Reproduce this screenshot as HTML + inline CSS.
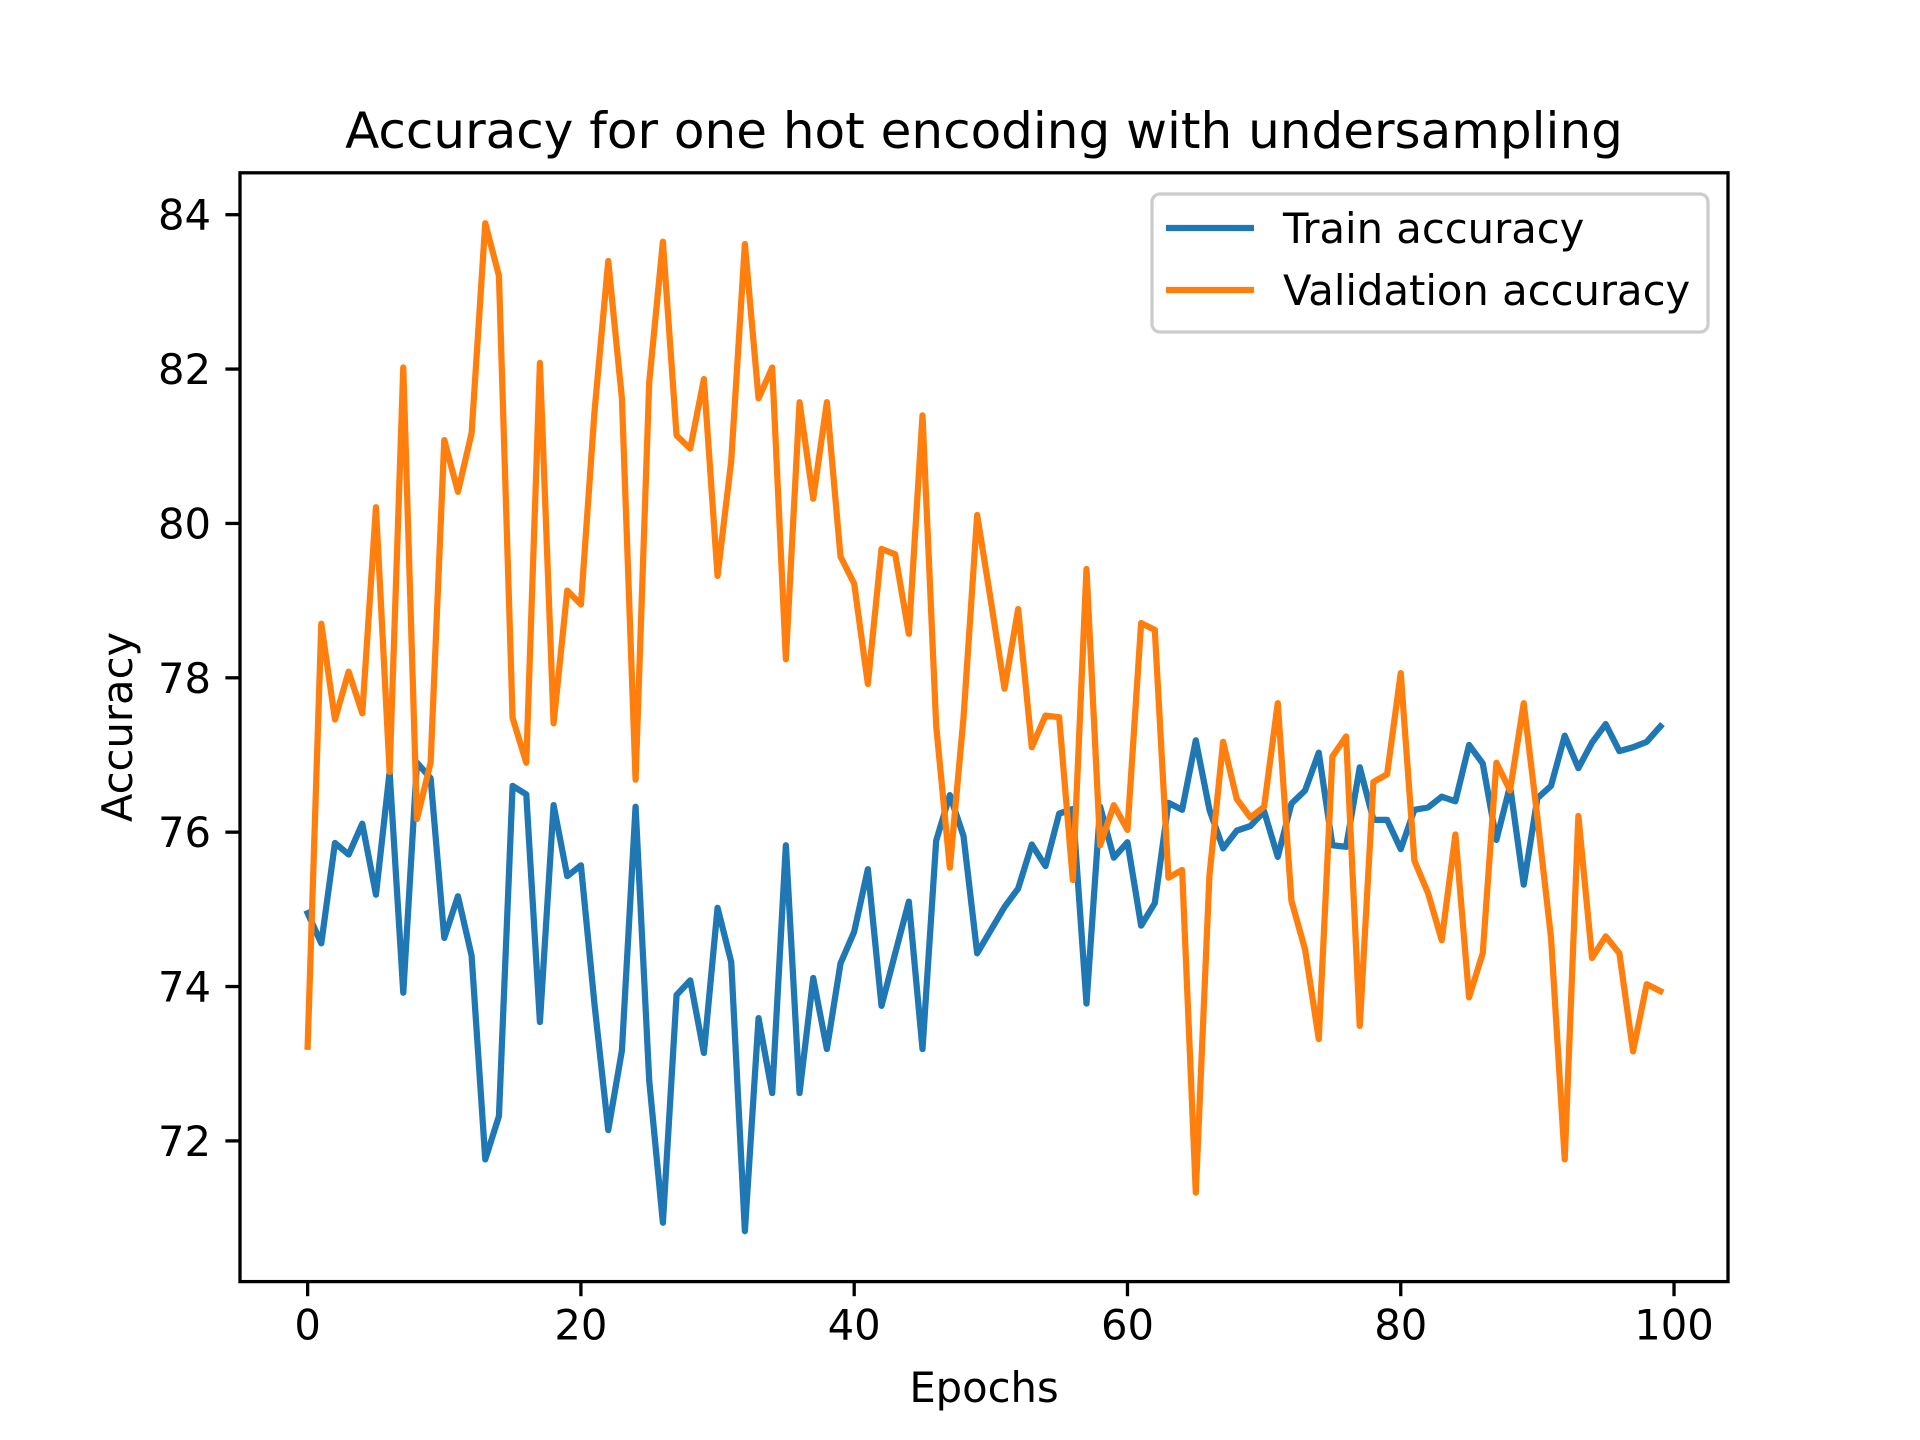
<!DOCTYPE html>
<html><head><meta charset="utf-8"><style>
html,body{margin:0;padding:0;background:#fff;}
svg{display:block;font-family:"DejaVu Sans","Liberation Sans",sans-serif;}
</style></head><body>
<svg id="chart" width="1920" height="1440" viewBox="0 0 1920 1440" xmlns="http://www.w3.org/2000/svg">
<rect width="1920" height="1440" fill="#fff"/>
<text x="984" y="148" font-size="50" text-anchor="middle">Accuracy for one hot encoding with undersampling</text>
<g id="plot"></g>
<text x="984" y="1402" font-size="41.7" text-anchor="middle">Epochs</text>
<text x="0" y="0" font-size="41.7" text-anchor="middle" transform="translate(132,727) rotate(-90)">Accuracy</text>
</svg>
<script>
const trainAcc = [74.95,74.56,75.86,75.71,76.11,75.19,76.78,73.92,76.9,76.7,74.63,75.17,74.4,71.76,72.32,76.6,76.49,73.54,76.35,75.43,75.57,73.76,72.14,73.17,76.33,72.78,70.94,73.89,74.08,73.14,75.02,74.32,70.83,73.59,72.62,75.83,72.62,74.11,73.19,74.3,74.71,75.52,73.75,74.43,75.1,73.19,75.89,76.48,75.95,74.43,74.73,75.03,75.27,75.84,75.56,76.24,76.3,73.78,76.33,75.67,75.87,74.79,75.08,76.38,76.29,77.19,76.29,75.79,76.02,76.08,76.27,75.68,76.37,76.54,77.03,75.83,75.81,76.84,76.16,76.16,75.78,76.29,76.32,76.46,76.4,77.13,76.89,75.9,76.6,75.32,76.44,76.6,77.25,76.83,77.16,77.4,77.05,77.1,77.17,77.37];
const valAcc = [73.22,78.7,77.46,78.08,77.54,80.21,76.78,82.02,76.17,76.9,81.08,80.41,81.17,83.89,83.21,77.48,76.9,82.08,77.41,79.13,78.95,81.46,83.4,81.62,76.68,81.83,83.65,81.14,80.97,81.87,79.32,80.81,83.62,81.62,82.02,78.24,81.57,80.32,81.57,79.57,79.22,77.92,79.67,79.6,78.57,81.4,77.38,75.54,77.48,80.11,79.0,77.86,78.89,77.1,77.51,77.49,75.38,79.41,75.83,76.35,76.03,78.71,78.62,75.41,75.51,71.33,75.44,77.17,76.43,76.19,76.33,77.67,75.11,74.48,73.32,76.98,77.24,73.49,76.65,76.75,78.06,75.63,75.21,74.6,75.97,73.86,74.43,76.9,76.54,77.67,76.19,74.63,71.76,76.21,74.37,74.65,74.43,73.16,74.03,73.94];
const xTicks = [0,20,40,60,80,100];
const yTicks = [72,74,76,78,80,82,84];
const seriesNames = ["Train accuracy","Validation accuracy"];

const L=240,R=1728,T=172.8,B=1281.6;
const n=trainAcc.length;
const all=trainAcc.concat(valAcc);
const dmin=Math.min(...all),dmax=Math.max(...all);
const xmin=-(n-1)*0.05,xmax=(n-1)*1.05;
const ymin=dmin-(dmax-dmin)*0.05,ymax=dmax+(dmax-dmin)*0.05;
const xs=v=>L+(v-xmin)/(xmax-xmin)*(R-L);
const ys=v=>B-(v-ymin)/(ymax-ymin)*(B-T);
const NS="http://www.w3.org/2000/svg";
const g=document.getElementById('plot');
function mk(tag,attrs,parent){const e=document.createElementNS(NS,tag);for(const k in attrs)e.setAttribute(k,attrs[k]);(parent||g).appendChild(e);return e;}

function line(data,color,name){
  const p=mk('polyline',{points:data.map((v,i)=>xs(i).toFixed(2)+','+ys(v).toFixed(2)).join(' '),fill:'none',stroke:color,'stroke-width':6.25,'stroke-linejoin':'round','stroke-linecap':'square'});
  
  
}
line(trainAcc,'#1f77b4','train-accuracy-line');
line(valAcc,'#ff7f0e','validation-accuracy-line');

const frame=mk('rect',{x:L,y:T,width:R-L,height:B-T,fill:'none',stroke:'#000','stroke-width':3.3});



xTicks.forEach(t=>{
  const x=xs(t);
  const tk=mk('line',{x1:x,x2:x,y1:B,y2:B+14.6,stroke:'#000','stroke-width':3.3});
  
  
  const tx=mk('text',{x:x,y:B+58,'font-size':41.7,'text-anchor':'middle'});
  tx.textContent=t;
  
  
});
yTicks.forEach(t=>{
  const y=ys(t);
  const tk=mk('line',{x1:L-14.6,x2:L,y1:y,y2:y,stroke:'#000','stroke-width':3.3});
  
  
  const tx=mk('text',{x:L-29,y:y+15,'font-size':41.7,'text-anchor':'end'});
  tx.textContent=t;
  
  
});

const lg=mk('g',{});


mk('rect',{x:1152,y:194,width:556,height:138,rx:8,fill:'#fff','fill-opacity':0.8,stroke:'#ccc','stroke-width':3.3},lg);
const colors=['#1f77b4','#ff7f0e'];
seriesNames.forEach((s,i)=>{
  const y=228+i*62;
  const ln=mk('line',{x1:1166,x2:1254,y1:y,y2:y,stroke:colors[i],'stroke-width':6.25},lg);
  
  
  const tx=mk('text',{x:1283,y:y+15,'font-size':41.7},lg);
  tx.textContent=s;
  
  
});
</script>
</body></html>
